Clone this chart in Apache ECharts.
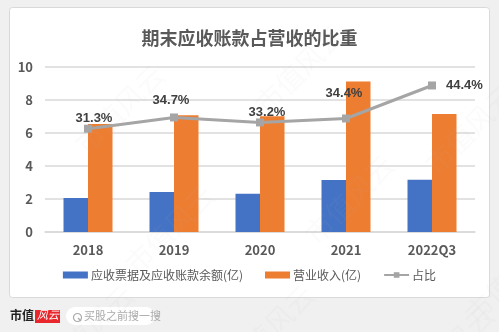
<!DOCTYPE html>
<html><head><meta charset="utf-8">
<script src="https://cdn.jsdelivr.net/npm/echarts@6/dist/echarts.min.js"></script>
<style>html,body{margin:0;padding:0;background:#f0f0f0;}#c{width:499px;height:332px;}</style>
</head><body><div id="c"></div>
<script>
const categories = ['2018','2019','2020','2021','2022Q3'];
const receivables = [2.06, 2.43, 2.32, 3.15, 3.17];
const revenue = [6.55, 7.08, 7.02, 9.12, 7.15];
const ratio = [31.3, 34.7, 33.2, 34.4, 44.4];
const yTicks = [0, 2, 4, 6, 8, 10];
const legendNames = ['应收票据及应收账款余额(亿)', '营业收入(亿)', '占比'];

const chart = echarts.init(document.getElementById('c'), null, {renderer:'canvas'});
const font = '"Noto Sans CJK SC", "Noto Sans", sans-serif';
const wm = [];
[[70,60],[250,20],[420,80],[120,180],[300,150],[460,230],[40,280],[220,280],[400,300]].forEach(p=>{
  wm.push({type:'text', left:p[0], top:p[1], rotation:Math.PI/4, silent:true, z:100,
    style:{text:'市值风云', fill:'rgba(180,180,180,0.06)', font:'28px '+font}});
});
const labelTweaks = [
  {position:'top', offset:[6,6]},
  {position:'top', offset:[-3,-1]},
  {position:'top', offset:[7,6]},
  {position:'top', offset:[-2,-9]},
  {position:'right', distance:10}
];
chart.setOption({
  backgroundColor:'#f0f0f0',
  textStyle:{fontFamily:font},
  title:{text:'期末应收账款占营收的比重', left:'center', top:24,
    textStyle:{fontSize:18, fontWeight:'bold', color:'#595959', fontFamily:font}},
  graphic:[
    {type:'rect', left:9, top:7, z:-10, shape:{width:480, height:290, r:3},
      style:{fill:'#ffffff', stroke:'#d9d9d9', lineWidth:1}},
    {type:'text', left:10, top:309, style:{text:'市值', font:'bold 12px '+font, fill:'#222'}},
    {type:'rect', left:35, top:310, shape:{width:25, height:13}, style:{fill:'#e8262c'}},
    {type:'text', left:37, top:309, style:{text:'风云', font:'italic 11px '+font, fill:'#fff'}},
    {type:'rect', left:66, top:307, shape:{width:89, height:18, r:9}, style:{fill:'#ffffff'}},
    {type:'circle', left:71, top:311, shape:{r:4}, style:{fill:'none', stroke:'#aaa', lineWidth:1.2}},
    {type:'line', shape:{x1:78, y1:318, x2:81, y2:321}, style:{stroke:'#aaa', lineWidth:1.2}},
    {type:'text', left:84, top:310, style:{text:'买股之前搜一搜', font:'11px '+font, fill:'#aaa'}}
  ].concat(wm),
  legend:{bottom:46, left:'center', itemGap:22, itemWidth:25, itemHeight:7,
    textStyle:{fontSize:12, color:'#595959', fontFamily:font, padding:[0,0,0,-2]},
    data:[{name:legendNames[0], icon:'rect'},{name:legendNames[1], icon:'rect'},{name:legendNames[2]}]},
  grid:{left:45, right:24, top:67, bottom:100},
  xAxis:{type:'category', data:categories,
    axisLine:{lineStyle:{color:'#d9d9d9', width:1.5}}, axisTick:{show:false},
    axisLabel:{color:'#595959', fontSize:13, fontWeight:'bold', margin:12}},
  yAxis:[
    {type:'value', min:0, max:10, interval:2,
      axisLabel:{color:'#595959', fontSize:13, fontWeight:'bold', margin:12, formatter:v=>yTicks.includes(v)?String(v):''},
      splitLine:{lineStyle:{color:'#d9d9d9', width:1.5}}, axisLine:{show:false}, axisTick:{show:false}},
    {type:'value', min:0, max:50, show:false, splitLine:{show:false}}
  ],
  series:[
    {name:legendNames[0], type:'bar', data:receivables, barWidth:24.5, barGap:'0%',
      itemStyle:{color:'#4472c4'}},
    {name:legendNames[1], type:'bar', data:revenue, barWidth:24.5,
      itemStyle:{color:'#ed7d31'}},
    {name:legendNames[2], type:'line', yAxisIndex:1, data:ratio.map((v,i)=>({value:v, label:labelTweaks[i]})),
      symbol:'rect', symbolSize:8, itemStyle:{color:'#a5a5a5'}, lineStyle:{color:'#a5a5a5', width:3},
      z:5,
      label:{show:true, position:'top', distance:6, formatter:p=>p.value.toFixed(1)+'%',
        color:'#404040', fontSize:13, fontWeight:'bold', fontFamily:'"Liberation Sans", Arial, sans-serif'}}
  ]
});
</script></body></html>
